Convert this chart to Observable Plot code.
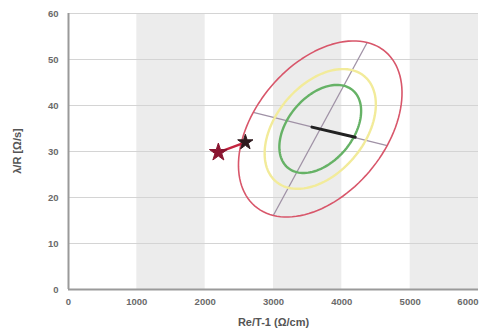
<!DOCTYPE html>
<html>
<head>
<meta charset="utf-8">
<script src="https://cdn.jsdelivr.net/npm/d3@7"></script>
<script src="https://cdn.jsdelivr.net/npm/@observablehq/plot@0.6"></script>
<style>
  html, body { margin: 0; padding: 0; background: #fff; }
  #chart svg { font-family: "Liberation Sans", Arial, sans-serif; }
</style>
</head>
<body>
<div id="chart"></div>
<script>
// ---- data ----
const xTicks = [0, 1000, 2000, 3000, 4000, 5000, 6000];
const yTicks = [0, 10, 20, 30, 40, 50, 60];
const bandStarts = [1000, 3000, 5000];
const bandEnds = [2000, 4000, 6000];

// confidence ellipses: common centre and the two half-diameters of the outer one
const ellipseCenter = [3684, 34.9];
const majorHalf = [687, 18.8];
const minorHalf = [980, -3.6];
const ellipseNames = ["inner", "middle", "outer"];
const ellipseScales = [0.5, 0.68, 1];
const ellipseColors = ["#66b266", "#f2eb9a", "#d8566a"];
const ellipseWidths = [2.4, 2.4, 1.6];

// thick black segment from the centre
const segX = [3563, 4196];
const segY = [35.3, 33.1];

// the two stars
const starX = [2193, 2588];
const starY = [29.8, 32.0];
const starColors = ["#8a1530", "#2e1a1e"];
const starSizes = [5.6, 4.8];

const xLabel = "Re/T-1 (Ω/cm)";
const yLabel = "λ/R [Ω/s]";

// ---- build tables ----
const ellipsePts = [];
ellipseNames.forEach((name, i) => {
  const s = ellipseScales[i];
  for (let k = 0; k <= 120; k++) {
    const t = (k / 120) * 2 * Math.PI;
    ellipsePts.push({
      name,
      x: ellipseCenter[0] + s * (Math.cos(t) * majorHalf[0] + Math.sin(t) * minorHalf[0]),
      y: ellipseCenter[1] + s * (Math.cos(t) * majorHalf[1] + Math.sin(t) * minorHalf[1])
    });
  }
});
const axesLines = [
  {x1: ellipseCenter[0] - majorHalf[0], y1: ellipseCenter[1] - majorHalf[1], x2: ellipseCenter[0] + majorHalf[0], y2: ellipseCenter[1] + majorHalf[1]},
  {x1: ellipseCenter[0] - minorHalf[0], y1: ellipseCenter[1] - minorHalf[1], x2: ellipseCenter[0] + minorHalf[0], y2: ellipseCenter[1] + minorHalf[1]}
];
const bands = bandStarts.map((b, i) => ({x1: b, x2: bandEnds[i]}));
const stars = starX.map((x, i) => ({x, y: starY[i], c: starColors[i], r: starSizes[i]}));
const seg = segX.map((x, i) => ({x, y: segY[i]}));

const tickStyle = {tickSize: 0, fontSize: 9.5, fill: "#6a6a6a", fontWeight: "bold"};

const chart = Plot.plot({
  width: 479,
  height: 336,
  marginLeft: 68,
  marginRight: 1,
  marginTop: 13,
  marginBottom: 47,
  style: {background: "#fff", fontFamily: "Liberation Sans, Arial, sans-serif"},
  x: {domain: [0, 6000]},
  y: {domain: [0, 60]},
  r: {type: "identity"},
  marks: [
    Plot.rect(bands, {x1: "x1", x2: "x2", y1: 0, y2: 60, fill: "#ececec"}),
    Plot.gridY(yTicks.slice(1), {stroke: "#d4d4d4", strokeOpacity: 1}),
    Plot.ruleX([0], {y1: 0, y2: 60, stroke: "#9a9a9a", strokeWidth: 2}),
    Plot.ruleY([0], {stroke: "#9a9a9a", strokeWidth: 2}),
    Plot.axisY(yTicks, {...tickStyle, tickPadding: 10, label: null}),
    Plot.axisX(xTicks.slice(0, -1), {...tickStyle, tickPadding: 9, tickFormat: d => String(d), label: null}),
    Plot.axisX(xTicks.slice(-1), {...tickStyle, tickPadding: 9, tickFormat: d => String(d), textAnchor: "end", label: null}),
    Plot.text([xLabel], {frameAnchor: "bottom", dy: 36, fontSize: 11, fontWeight: "bold", fill: "#555"}),
    Plot.link(axesLines, {x1: "x1", y1: "y1", x2: "x2", y2: "y2", stroke: "#a092a6", strokeWidth: 1.3}),
    ...ellipseNames.map((n, i) => Plot.line(ellipsePts.filter(d => d.name === n), {
      x: "x", y: "y", stroke: ellipseColors[i], strokeWidth: ellipseWidths[i], curve: "linear"})),
    Plot.line(seg, {x: "x", y: "y", stroke: "#222", strokeWidth: 3}),
    Plot.line(stars, {x: "x", y: "y", stroke: "#c4243f", strokeWidth: 2.5}),
    Plot.dot(stars, {x: "x", y: "y", symbol: "star", r: "r", fill: "c", stroke: "c", strokeWidth: 1})
  ]
});

// rotated y-axis title, placed in the left margin
const svg = d3.select(chart);
svg.append("text")
  .attr("transform", "translate(18,151) rotate(-90)")
  .attr("text-anchor", "middle")
  .attr("dominant-baseline", "middle")
  .attr("font-size", 11)
  .attr("font-weight", "bold")
  .attr("fill", "#555")
  .attr("font-family", "Liberation Sans, Arial, sans-serif")
  .text(yLabel);

document.getElementById("chart").appendChild(chart);
</script>
</body>
</html>
